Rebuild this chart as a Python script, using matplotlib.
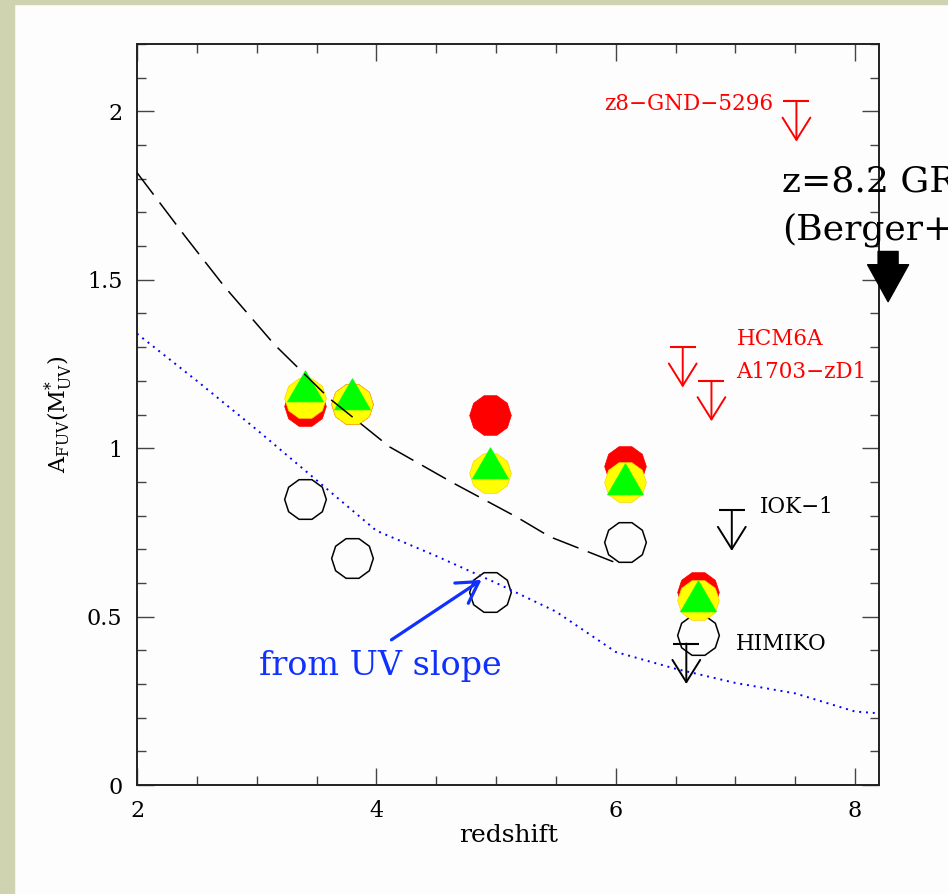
import matplotlib
matplotlib.use('Agg')
import matplotlib.pyplot as plt
from matplotlib.patches import FancyArrowPatch, Rectangle
from matplotlib.ticker import MultipleLocator, FormatStrFormatter

# ---- data ----
z_pts = [3.4, 3.8, 4.95, 6.08, 6.69]
a_red = [1.126, 1.13, 1.10, 0.948, 0.574]
a_yellow = [1.15, 1.13, 0.927, 0.90, 0.55]
a_green = [1.171, 1.147, 0.942, 0.895, 0.547]
a_open = [0.85, 0.675, 0.574, 0.722, 0.446]

lim_names = ['z8\u2212GND\u22125296', 'HCM6A', 'A1703\u2212zD1', 'IOK\u22121', 'HIMIKO']
lim_z = [7.51, 6.56, 6.80, 6.97, 6.59]
lim_a = [2.03, 1.30, 1.20, 0.815, 0.42]
lim_colors = ['red', 'red', 'red', 'black', 'black']

# dashed curve
dash_z = [2.0, 2.4, 2.73, 3.15, 3.6, 4.11, 4.64, 5.17, 5.45, 6.0]
dash_a = [1.818, 1.63, 1.48, 1.307, 1.150, 1.004, 0.897, 0.796, 0.737, 0.66]

# dotted "from UV slope" curve
slope_z = [2.0, 2.5, 3.0, 3.5, 4.0, 4.5, 5.0, 5.5, 6.0, 6.5, 7.0, 7.5, 8.0, 8.2]
slope_a = [1.34, 1.20, 1.055, 0.905, 0.755, 0.68, 0.60, 0.515, 0.395, 0.345, 0.303, 0.272, 0.218, 0.213]

grb_z, grb_a = 8.276, 1.584

# label offsets (points) relative to each limit bar
lim_offsets = [(-16.5, -2.2), (39, 5.8), (18, 6.5), (20, 2.2), (36, 0)]
lim_ha = ['right', 'left', 'left', 'left', 'left']

plt.rcParams['font.family'] = 'DejaVu Serif'
plt.rcParams['mathtext.fontset'] = 'dejavuserif'

W, H = 948, 894
fig = plt.figure(figsize=(W / 100, H / 100), dpi=100, facecolor='#fdfdfd')
fig.patches.append(Rectangle((0, 0), 14 / W, 1, transform=fig.transFigure,
                             color='#d0d3b0', zorder=-10))
fig.patches.append(Rectangle((0, 1 - 4 / H), 1, 4 / H, transform=fig.transFigure,
                             color='#d0d3b0', zorder=-10))

ax = fig.add_axes([137 / W, 1 - 785 / H, (879 - 137) / W, (785 - 44) / H])
ax.set_facecolor('none')

deca = (10, 0, 18)
ax.plot(z_pts, a_open, ls='none', marker=deca, ms=30, mfc='none', mec='black', mew=1.1, zorder=2)
ax.plot(z_pts, a_red, ls='none', marker=deca, ms=30, mfc='#ff0000', mec='#ff0000', mew=0.5, zorder=3)
ax.plot(z_pts, a_yellow, ls='none', marker=deca, ms=30, mfc='#ffff00', mec='#ffd000', mew=0.5, zorder=4)
ax.plot(z_pts, a_green, ls='none', marker=(3, 0, 0), ms=30, mfc='#00ff00', mec='#00ff00', mew=0.5, zorder=5)

ax.plot(dash_z, dash_a, color='black', lw=1.1, ls=(0, (18, 6.5)), zorder=6)
ax.plot(slope_z, slope_a, color='#0000ff', lw=1.4, ls=(0, (1, 2.5)), zorder=6)

# upper limits
for name, z, a, c, off, ha in zip(lim_names, lim_z, lim_a, lim_colors, lim_offsets, lim_ha):
    ax.plot([z], [a], marker='_', ms=19, mew=1.5, color=c, zorder=7)
    ax.annotate('', xy=(z, a - 0.12), xytext=(z, a),
                arrowprops=dict(arrowstyle='->,head_length=0.4,head_width=0.25',
                                mutation_scale=40, lw=1.4, color=c, shrinkA=0, shrinkB=0),
                zorder=7)
    ax.annotate(name, xy=(z, a), xytext=off, textcoords='offset points',
                ha=ha, va='center', color=c, fontsize=15.5)

# "from UV slope" pointer
blue = '#1030ff'
ax.annotate('', xy=(4.879, 0.609), xytext=(4.126, 0.431),
            arrowprops=dict(arrowstyle='->,head_length=0.6,head_width=0.35',
                            mutation_scale=25, lw=2.3, color=blue, shrinkA=0, shrinkB=0),
            zorder=8)
ax.text(4.03, 0.327, 'from UV slope', color=blue, fontsize=24, ha='center', va='baseline')

# GRB note outside the frame (cut by the slide edge, as on the original)
ax.text(7.39, 1.762, 'z=8.2 GR', fontsize=26, va='baseline', clip_on=False)
ax.text(7.39, 1.62, '(Berger+', fontsize=26, va='baseline', clip_on=False)
ax.add_patch(FancyArrowPatch((grb_z, grb_a), (grb_z, grb_a - 0.149),
                             arrowstyle='simple,head_length=26.6,head_width=29.5,tail_width=14.4',
                             mutation_scale=1, color='black', clip_on=False,
                             shrinkA=0, shrinkB=0, zorder=9))

ax.set_xlim(2, 8.2)
ax.set_ylim(0, 2.2)
ax.xaxis.set_major_locator(MultipleLocator(2))
ax.xaxis.set_minor_locator(MultipleLocator(0.5))
ax.yaxis.set_major_locator(MultipleLocator(0.5))
ax.yaxis.set_minor_locator(MultipleLocator(0.1))
ax.xaxis.set_major_formatter(FormatStrFormatter('%g'))
ax.yaxis.set_major_formatter(FormatStrFormatter('%g'))
ax.tick_params(which='both', direction='in', top=True, right=True, width=1,
               color='#444444', labelsize=16, pad=10.5)
ax.tick_params(which='major', length=12)
ax.tick_params(which='minor', length=6.5)
for s in ax.spines.values():
    s.set_linewidth(1.4)
    s.set_color('#222222')

ax.set_xlabel('redshift', fontsize=18)
ax.set_ylabel(r'$\mathrm{A_{FUV}(M^{*}_{UV})}$', fontsize=16)
ax.xaxis.set_label_coords(0.501, -0.052)
ax.yaxis.set_label_coords(-0.084, 0.5)

fig.savefig('out.png', dpi=100, facecolor=fig.get_facecolor())
